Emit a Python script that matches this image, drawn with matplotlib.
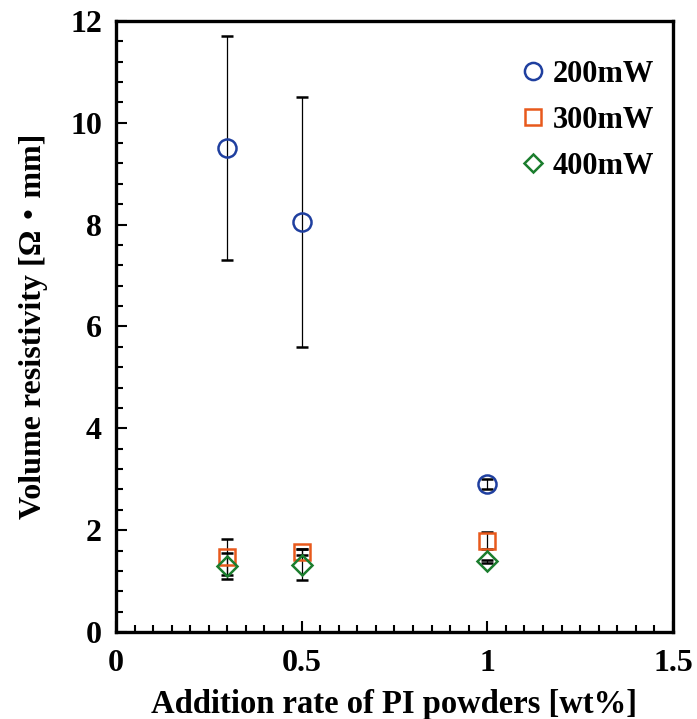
import matplotlib
matplotlib.use("Agg")
import matplotlib.pyplot as plt
from matplotlib.ticker import MultipleLocator
from matplotlib.lines import Line2D

x = [0.3, 0.5, 1.0]
y200 = [9.5, 8.05, 2.9]
e200 = [2.2, 2.45, 0.1]
y300 = [1.47, 1.57, 1.79]
e300 = [0.35, 0.05, 0.17]
y400 = [1.30, 1.32, 1.39]
e400 = [0.25, 0.30, 0.03]
labels = ['200mW', '300mW', '400mW']
colors = ['#1f3f9f', '#e8591c', '#1b7d2e']
markers = ['o', 's', 'D']
sizes = [13, 12, 10]

plt.rcParams['font.family'] = ['Liberation Serif', 'DejaVu Serif']
plt.rcParams['font.weight'] = 'bold'

fig = plt.figure(figsize=(6.97, 7.19), dpi=100)
ax = fig.add_axes([0.1664, 0.121, 0.799, 0.850])

ekw = dict(ecolor='black', elinewidth=0.9, capsize=4, capthick=0.9, linestyle='none')
handles = []
for ys, es, c, m, s, l in zip([y200, y300, y400], [e200, e300, e400], colors, markers, sizes, labels):
    ax.errorbar(x, ys, yerr=es, marker=m, ms=s, mfc='none', mec=c, mew=1.8, **ekw)
    handles.append(Line2D([], [], linestyle='none', marker=m, ms=s * 0.95, mfc='none', mec=c, mew=1.8, label=l))

ax.set_xlim(0, 1.5)
ax.set_ylim(0, 12)
ax.xaxis.set_minor_locator(MultipleLocator(0.05))
ax.yaxis.set_major_locator(MultipleLocator(2))
ax.yaxis.set_minor_locator(MultipleLocator(0.4))
ax.set_xticks([0, 0.5, 1, 1.5])
ax.set_xticklabels(['0', '0.5', '1', '1.5'])
ax.tick_params(which='both', direction='in', top=False, right=False, labelsize=23, width=1.5)
ax.tick_params(axis='x', which='major', length=8, pad=12)
ax.tick_params(axis='y', which='major', length=8, pad=10)
ax.tick_params(which='minor', length=5)
for s in ax.spines.values():
    s.set_linewidth(2.4)

ax.set_xlabel('Addition rate of PI powders [wt%]', fontsize=23.5, fontweight='bold', labelpad=8)
ax.set_ylabel('Volume resistivity [Ω・mm]', fontsize=23, fontweight='bold', labelpad=16,
              family=['Liberation Serif', 'Noto Sans CJK JP'])

ax.legend(handles=handles, loc='upper right', bbox_to_anchor=(0.989, 0.956), frameon=False,
          fontsize=22, handletextpad=0.15, handlelength=1.0, labelspacing=0.55, borderaxespad=0)

fig.savefig('out.png', dpi=100)
